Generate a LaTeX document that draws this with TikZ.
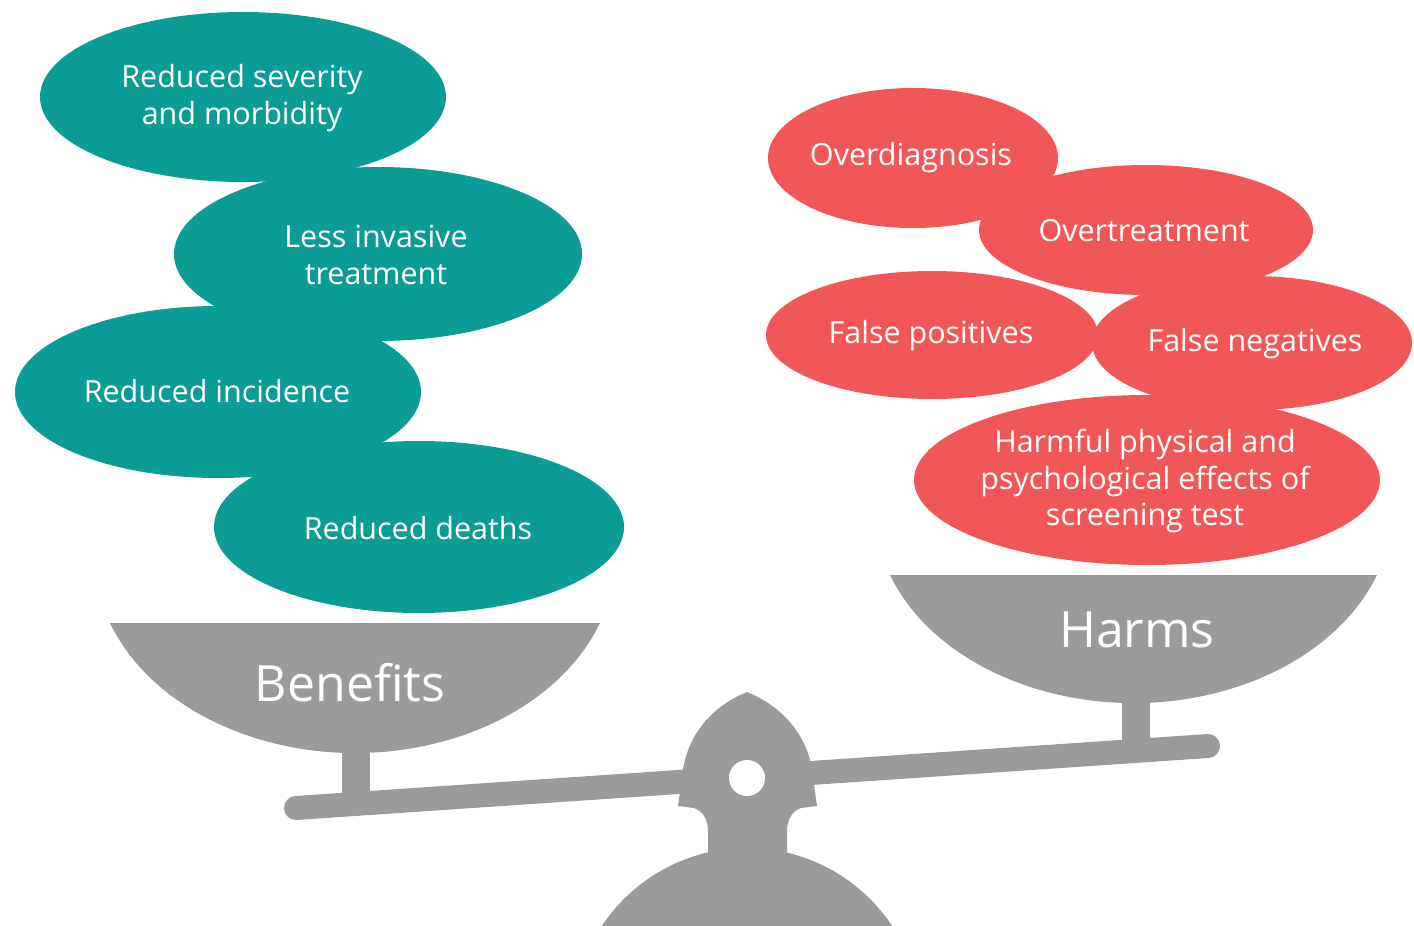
\documentclass[tikz,border=0pt]{standalone}
\usepackage{fontspec}
\setmainfont{Open Sans}
\usetikzlibrary{shapes.geometric}
\definecolor{tealc}{RGB}{12,156,150}
\definecolor{redc}{RGB}{242,87,87}
\definecolor{grayc}{RGB}{155,155,155}
\tikzset{
  benefit/.style={ellipse, fill=tealc, inner sep=0pt},
  harm/.style={ellipse, fill=redc, inner sep=0pt},
  lbl/.style={text=white, font=\fontsize{30.5}{36.5}\selectfont, align=center, inner sep=0pt},
  panlbl/.style={text=white, font=\fontsize{50}{56}\selectfont, inner sep=0pt},
  metal/.style={fill=grayc, draw=none},
  beamline/.style={draw=grayc, line width=24pt, line cap=round},
  stemline/.style={draw=grayc, line width=28pt}
}
\begin{document}
\begin{tikzpicture}[x=1pt,y=-1pt]
\useasboundingbox (0,0) rectangle (1414,926);
\begin{scope}
\clip (0,0) rectangle (1414,926);
% benefits ellipses
\node[benefit, minimum width=406pt, minimum height=170pt] (b1) at (243,97) {};
\node[benefit, minimum width=408pt, minimum height=174pt] (b2) at (378,254) {};
\node[benefit, minimum width=406pt, minimum height=172pt] (b3) at (218,392) {};
\node[benefit, minimum width=410pt, minimum height=172pt] (b4) at (419,527) {};
\node[lbl] at (242,98) {Reduced severity\\and morbidity};
\node[lbl] at (376,255) {Less invasive\\treatment};
\node[lbl] at (217,391) {Reduced incidence};
\node[lbl] at (418,528) {Reduced deaths};
% harms ellipses
\node[harm, minimum width=290pt, minimum height=140pt] (h1) at (913,158) {};
\node[harm, minimum width=334pt, minimum height=130pt] (h2) at (1146,230) {};
\node[harm, minimum width=332pt, minimum height=128pt] (h3) at (932,335) {};
\node[harm, minimum width=320pt, minimum height=134pt] (h4) at (1252,343) {};
\node[harm, minimum width=466pt, minimum height=170pt] (h5) at (1147,480) {};
\node[lbl] at (911,158) {Overdiagnosis};
\node[lbl] at (1144,231) {Overtreatment};
\node[lbl] at (931,336) {False positives};
\node[lbl] at (1255,344) {False negatives};
\node[lbl] at (1145,481) {Harmful physical and\\psychological effects of\\screening test};
% scale
\coordinate (bl) at (296,808);
\coordinate (br) at (1208,746);
\draw[stemline] (356,740) -- (356,805);
\draw[stemline] (1136,690) -- (1136,748);
\draw[beamline] (bl) -- (br);
\fill[metal] (110,623) arc[start angle=200, end angle=340, x radius=260.7pt, y radius=197.6pt] -- cycle;
\fill[metal] (890,575) arc[start angle=200, end angle=340, x radius=259.1pt, y radius=194.6pt] -- cycle;
\node[panlbl] (ben) at (350,683) {Benefits};
\node[panlbl] (har) at (1137,630) {Harms};
% fulcrum
\fill[metal] (747,692) .. controls (712,706) and (688,735) .. (683,770) -- (678,806) -- (694,808)
  .. controls (704,812) and (708,820) .. (708,832) -- (708,860) -- (787,860) -- (787,832)
  .. controls (787,820) and (791,812) .. (801,808) -- (817,806) -- (812,770)
  .. controls (807,735) and (782,706) .. (747,692) -- cycle;
\fill[metal] (747,1022) circle[radius=174pt];
\fill[white] (747,778) circle[radius=18pt];
\end{scope}
\end{tikzpicture}
\end{document}
